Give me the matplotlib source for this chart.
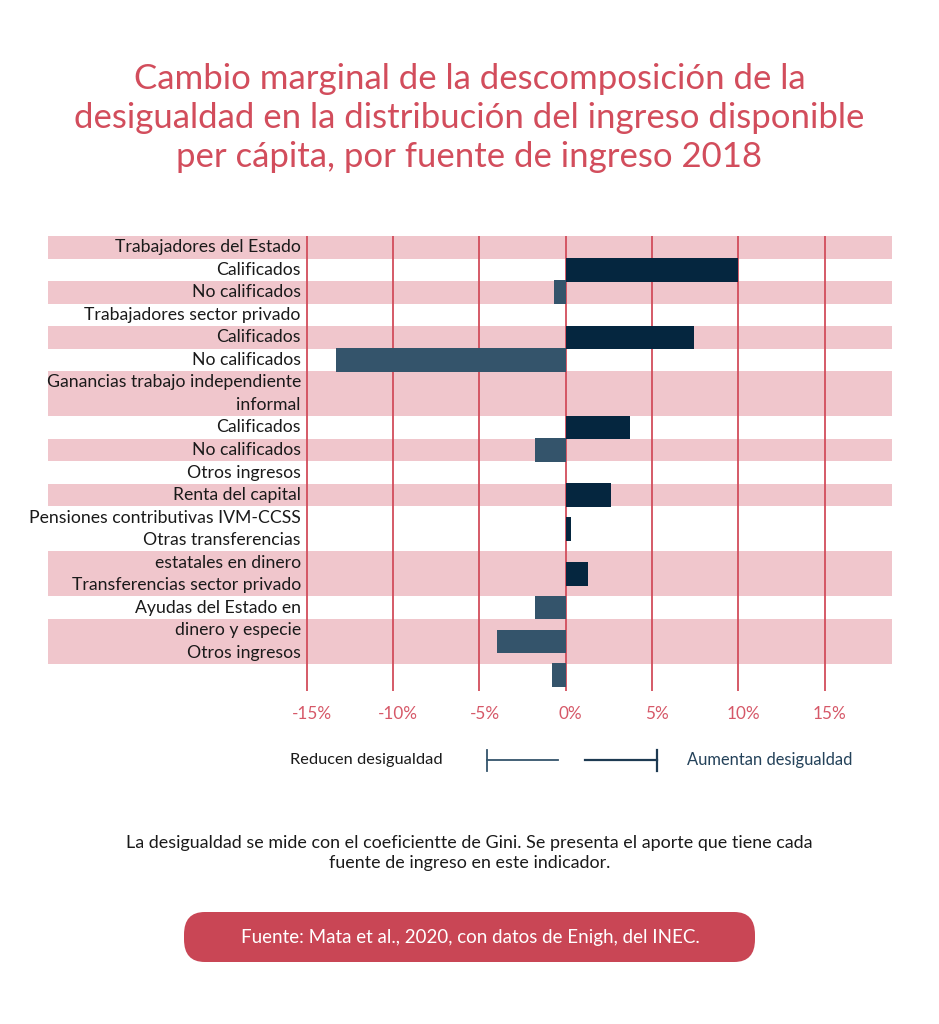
import numpy as np
import matplotlib
matplotlib.use('Agg')
from matplotlib import pyplot as plt
from matplotlib.lines import Line2D
from matplotlib.patches import FancyBboxPatch
import matplotlib.transforms as mtransforms

plt.rcParams['font.family'] = ['Lato', 'DejaVu Sans']

# rows of the chart, as drawn (label lines, value of the bar in %)
row_labels = [
    "Trabajadores del Estado",
    "Calificados",
    "No calificados",
    "Trabajadores sector privado",
    "Calificados",
    "No calificados",
    "Ganancias trabajo independiente\ninformal",
    "Calificados",
    "No calificados",
    "Otros ingresos",
    "Renta del capital",
    "Pensiones contributivas IVM-CCSS\nOtras transferencias",
    "estatales en dinero\nTransferencias sector privado",
    "Ayudas del Estado en",
    "dinero y especie\nOtros ingresos",
    "",
]
row_values = [None, 10.0, -0.7, None, 7.4, -13.3, None, 3.7, -1.8, None,
              2.6, 0.3, 1.3, -1.8, -4.0, -0.8]
xticks = [-15, -10, -5, 0, 5, 10, 15]
xtick_labels = ['-15%', '-10%', '-5%', '0%', '5%', '10%', '15%']

title = ("Cambio marginal de la descomposición de la\n"
         "desigualdad en la distribución del ingreso disponible\n"
         "per cápita, por fuente de ingreso 2018")
note = ("La desigualdad se mide con el coeficientte de Gini. Se presenta el aporte que tiene cada\n"
        "fuente de ingreso en este indicador.")
source = "Fuente: Mata et al., 2020, con datos de Enigh, del INEC."

RED = '#d24d5c'
PINK = '#f0c6cc'
POS = '#05263f'
NEG = '#34546b'

W, H = 939, 1024


def fx(x):
    return x / W


def fy(y):
    return 1 - y / H


fig = plt.figure(figsize=(W / 100, H / 100), dpi=100)
fig.patch.set_facecolor('white')

# chart area in pixels
left, right, top, bottom = 48, 892, 236, 691
ax = fig.add_axes([fx(left), fy(bottom), fx(right) - fx(left), fy(top) - fy(bottom)])
ax.set_xlim(-30, 18.9)
ax.set_ylim(19.7, -0.5)
ax.axis('off')

n_lines = np.array([lab.count('\n') + 1 for lab in row_labels])
starts = np.concatenate([[0], np.cumsum(n_lines)[:-1]]) - 0.5
ends = starts + n_lines
centers = (starts + ends) / 2

for i, (s, e) in enumerate(zip(starts, ends)):
    if i % 2 == 0:
        ax.axhspan(s, e, color=PINK, lw=0, zorder=0)
    for j, line in enumerate(row_labels[i].split('\n')):
        ax.text(-15.35, s + 0.5 + j, line, ha='right', va='center',
                fontsize=12.7, color='#1a1a1a', zorder=3)

for x in xticks:
    ax.axvline(x, color=RED, lw=1.3, zorder=1)

for c, v in zip(centers, row_values):
    if v is None:
        continue
    ax.barh(c, v, height=1.05, color=POS if v > 0 else NEG, zorder=2)

# tick labels under the grid lines
offset = mtransforms.ScaledTranslation(5 / 100, 0, fig.dpi_scale_trans)
tr = mtransforms.blended_transform_factory(ax.transData, fig.transFigure)
for x, lab in zip(xticks, xtick_labels):
    ax.text(x, fy(714), lab, transform=tr + offset, ha='center', va='center',
            fontsize=12.3, color='#d65868')

# title
fig.text(0.5, fy(118), title, ha='center', va='center', fontsize=25,
         color=RED, linespacing=1.27)

# direction legend
fig.text(fx(443), fy(760), "Reducen desigualdad", ha='right', va='center',
         fontsize=11.8, color='#1a1a1a')
fig.text(fx(687), fy(760), "Aumentan desigualdad", ha='left', va='center',
         fontsize=11.9, color='#24425a')
fig.add_artist(Line2D([fx(487), fx(558)], [fy(760), fy(760)], color=NEG, lw=1.3))
fig.add_artist(Line2D([fx(487), fx(487)], [fy(750), fy(771)], color=NEG, lw=1.3))
fig.add_artist(Line2D([fx(585), fx(657)], [fy(760), fy(760)], color='#1d3a52', lw=1.6))
fig.add_artist(Line2D([fx(657), fx(657)], [fy(750), fy(771)], color='#1d3a52', lw=1.6))

# note
fig.text(0.5, fy(853), note, ha='center', va='center', fontsize=12.9,
         color='#1a1a1a', linespacing=1.3)

# source box
box = FancyBboxPatch((fx(184), fy(962)), fx(755) - fx(184), fy(912) - fy(962),
                     boxstyle='round,pad=0,rounding_size=0.022',
                     transform=fig.transFigure, facecolor='#c94655', edgecolor='none')
fig.add_artist(box)
fig.text(fx(470), fy(937), source, ha='center', va='center', fontsize=13.5,
         color='white')

fig.savefig('out.png', dpi=100)
